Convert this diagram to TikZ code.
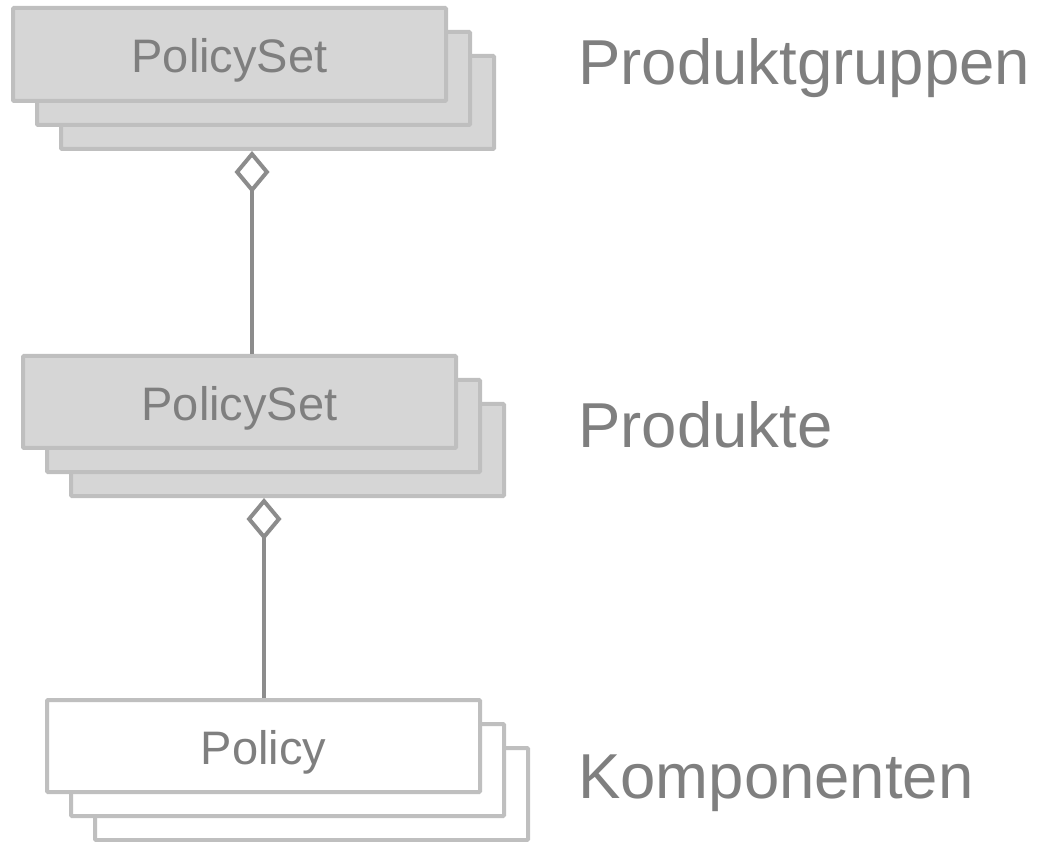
\documentclass[tikz,border=0pt]{standalone}
\usepackage{fontspec}
\setmainfont{Liberation Sans}
\usetikzlibrary{arrows.meta}

\definecolor{boxfill}{HTML}{D6D6D6}
\definecolor{boxline}{HTML}{BFBFBF}
\definecolor{linkline}{HTML}{8C8C8C}
\definecolor{labeltext}{HTML}{7F7F7F}

\tikzset{
  card/.style={draw=boxline, line width=4pt, rounded corners=1pt,
    minimum width=433pt, minimum height=93pt, inner sep=0pt,
    text=labeltext, font=\fontsize{47}{56}\selectfont,
    text height=37pt, text depth=0pt},
  setcard/.style={card, fill=boxfill},
  itemcard/.style={card, fill=white},
  levellabel/.style={anchor=base west, inner sep=0pt, text=labeltext,
    font=\fontsize{63.5}{76}\selectfont},
  aggregation/.style={draw=linkline, line width=4pt,
    -{Diamond[open, length=42pt, width=35pt]}},
}

\begin{document}
\begin{tikzpicture}[x=1pt, y=-1pt]
  \useasboundingbox (0,0) rectangle (1037,842);

  % product groups
  \node[setcard] (g3) at (277.5,102.5) {};
  \node[setcard] (g2) at (253.5,78.5) {};
  \node[setcard] (g1) at (229.5,54.5) {PolicySet};

  % products
  \node[setcard, minimum height=92pt] (p3) at (287.5,450) {};
  \node[setcard, minimum height=92pt] (p2) at (263.5,426) {};
  \node[setcard, minimum height=92pt] (p1) at (239.5,402) {PolicySet};

  % components
  \node[itemcard, minimum height=92pt] (c3) at (311.5,794) {};
  \node[itemcard, minimum height=92pt] (c2) at (287.5,770) {};
  \node[itemcard, minimum height=92pt] (c1) at (263.5,746) {Policy};

  % level names
  \node[levellabel] (lg) at (578,85) {Produktgruppen};
  \node[levellabel] (lp) at (578,447) {Produkte};
  \node[levellabel] (lc) at (578,798) {Komponenten};

  % aggregation links
  \coordinate (xg) at (252,0);
  \coordinate (xp) at (264,0);
  \draw[aggregation] (p1.north -| xg) -- (g3.south -| xg);
  \draw[aggregation] (c1.north -| xp) -- (p3.south -| xp);
\end{tikzpicture}
\end{document}
